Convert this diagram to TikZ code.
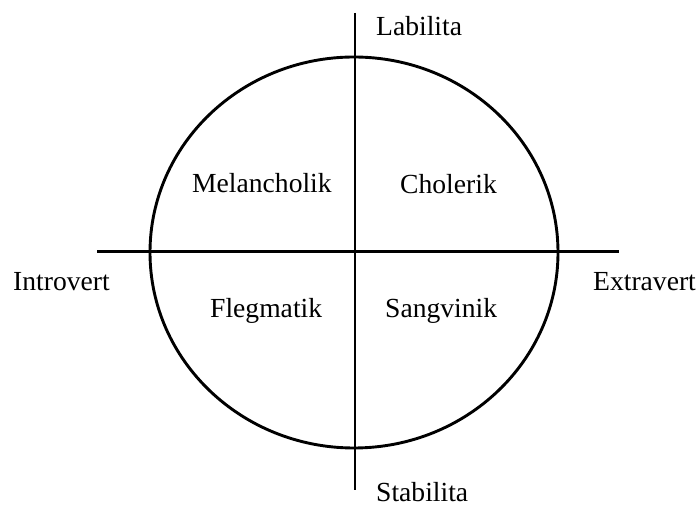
\documentclass[tikz,border=0pt]{standalone}
\usepackage{fontspec}
\setmainfont{Liberation Serif}
\begin{document}
\begin{tikzpicture}[x=1pt,y=1pt,
  axis/.style={line width=2.9pt},
  lbl/.style={inner sep=0pt,anchor=base west,font=\fontsize{27.6}{30}\selectfont}]
\useasboundingbox (0,0) rectangle (699,506);
\draw[axis] (354,253.5) ellipse [x radius=204, y radius=195.5];
\coordinate (vtop) at (355,493);
\coordinate (vbot) at (355,16);
\coordinate (hl) at (97,254.5);
\coordinate (hr) at (619,254.5);
\draw[axis] (vtop) -- (vbot);
\draw[axis] (hl) -- (hr);
\node[lbl] (lab) at (376,470) {Labilita};
\node[lbl] (stab) at (376,4.5) {Stabilita};
\node[lbl] (intro) at (13,215) {Introvert};
\node[lbl] (extra) at (593,215) {Extravert};
\node[lbl] (mel) at (192,313) {Melancholik};
\node[lbl] (chol) at (400,312) {Cholerik};
\node[lbl] (fleg) at (210,188) {Flegmatik};
\node[lbl] (sang) at (385,188) {Sangvinik};
\end{tikzpicture}
\end{document}
